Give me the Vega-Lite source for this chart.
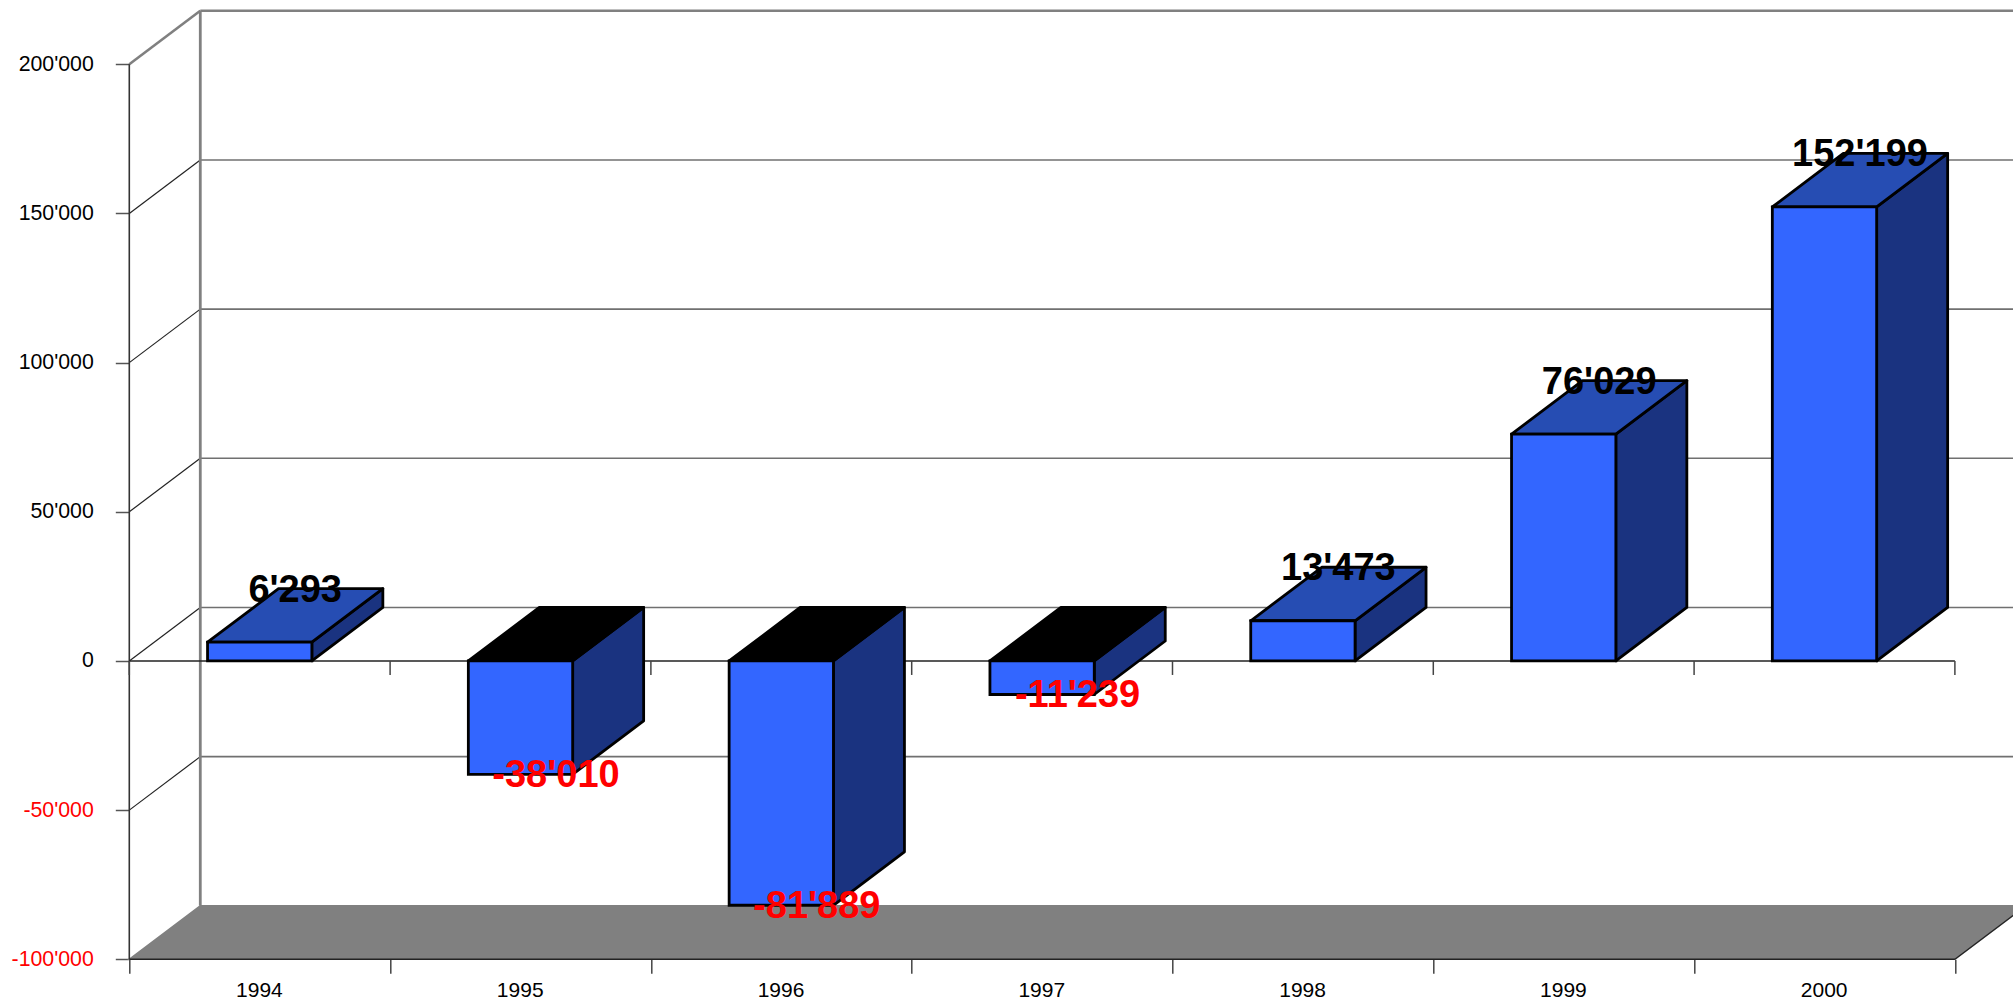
{
"$schema":"https://vega.github.io/schema/vega-lite/v6.json",
"autosize":"none",
"width":1883.7,"height":959.3,
"padding":{"left":129.3,"top":0,"right":0,"bottom":43.7},
"background":"white",
"params":[{"name":"dx","value":0.2722},{"name":"dy","value":17933},{"name":"tickLen","value":4692}],
"config":{"view":{"stroke":null},"font":"Liberation Sans"},
"datasets":{
"bars":[
{"year":1994,"value":6293,"label":"6'293"},
{"year":1995,"value":-38010,"label":"-38'010"},
{"year":1996,"value":-81889,"label":"-81'889"},
{"year":1997,"value":-11239,"label":"-11'239"},
{"year":1998,"value":13473,"label":"13'473"},
{"year":1999,"value":76029,"label":"76'029"},
{"year":2000,"value":152199,"label":"152'199"}],
"grid":[{"level":-50000},{"level":0},{"level":50000},{"level":100000},{"level":150000}],
"slots":[{"slot":0},{"slot":1},{"slot":2},{"slot":3},{"slot":4},{"slot":5},{"slot":6},{"slot":7}]
},
"layer":[
{"data":{"values":[{"base":-100000}]},
 "transform":[
  {"calculate":"[[0,datum.base,datum.base],[dx,datum.base,datum.base+dy],[7,datum.base,datum.base+dy],[7+dx,datum.base+dy,datum.base+dy]]","as":"s"},
  {"flatten":["s"]},
  {"calculate":"datum.s[0]","as":"px"},{"calculate":"datum.s[1]","as":"lo"},{"calculate":"datum.s[2]","as":"hi"}],
 "mark":{"type":"area","fill":"#808080","stroke":"#808080","strokeWidth":1.5,"clip":false},
 "encoding":{
  "x":{"field":"px","type":"quantitative","scale":{"domain":[0,7.2228],"nice":false,"zero":false},
   "axis":{"values":[0,1,2,3,4,5,6,7],"title":null,"domain":false,"grid":false,"tickSize":14,"tickColor":"#444444","tickWidth":1.5,"labelExpr":"datum.value<7?''+(1994+datum.value):''","labelOffset":129.6,"labelPadding":6.5,"labelFontSize":21,"labelFont":"Liberation Sans","labelColor":"#000000","labelFlush":false,"labelOverlap":false,"labelBound":false}},
  "y":{"field":"lo","type":"quantitative","stack":null,"scale":{"domain":[-100000,221553],"nice":false,"zero":false},
   "axis":{"values":[-100000,-50000,0,50000,100000,150000,200000],"title":null,"domain":false,"grid":false,"tickSize":14,"tickColor":"#555555","tickWidth":1.5,"labelExpr":"(datum.value<0?'-':'')+replace(format(abs(datum.value),','),regexp(',','g'),\"'\")","labelColor":{"expr":"datum.value<0?'#ff0000':'#000000'"},"labelFontSize":21.3,"labelFont":"Liberation Sans","labelPadding":22,"labelOverlap":false,"labelBound":false,"labelFlush":false}},
  "y2":{"field":"hi"}}},
{"data":{"name":"grid"},
 "transform":[{"calculate":"dx","as":"gx"},{"calculate":"datum.level+dy","as":"gy"},{"calculate":"7+2*dx","as":"gx2"}],
 "mark":{"type":"rule","stroke":"#707070","strokeWidth":1.6},
 "encoding":{
  "x":{"field":"gx","type":"quantitative","scale":{"domain":[0,7.2228],"nice":false,"zero":false}},
  "x2":{"field":"gx2"},
  "y":{"field":"gy","type":"quantitative","scale":{"domain":[-100000,221553],"nice":false,"zero":false}}}},
{"data":{"name":"grid"},
 "transform":[{"calculate":"0","as":"gx"},{"calculate":"dx","as":"gx2"},{"calculate":"datum.level+dy","as":"gy"}],
 "mark":{"type":"rule","stroke":"#222222","strokeWidth":1.2},
 "encoding":{
  "x":{"field":"gx","type":"quantitative","scale":{"domain":[0,7.2228],"nice":false,"zero":false}},
  "x2":{"field":"gx2"},
  "y":{"field":"level","type":"quantitative","scale":{"domain":[-100000,221553],"nice":false,"zero":false}},
  "y2":{"field":"gy"}}},
{"data":{"values":[{"level":200000}]},
 "transform":[{"calculate":"dx","as":"gx"},{"calculate":"datum.level+dy","as":"gy"},{"calculate":"7+2*dx","as":"gx2"}],
 "mark":{"type":"rule","stroke":"#808080","strokeWidth":2.6},
 "encoding":{
  "x":{"field":"gx","type":"quantitative","scale":{"domain":[0,7.2228],"nice":false,"zero":false}},
  "x2":{"field":"gx2"},
  "y":{"field":"gy","type":"quantitative","scale":{"domain":[-100000,221553],"nice":false,"zero":false}}}},
{"data":{"values":[{"level":200000}]},
 "transform":[{"calculate":"0","as":"gx"},{"calculate":"dx","as":"gx2"},{"calculate":"datum.level+dy","as":"gy"}],
 "mark":{"type":"rule","stroke":"#808080","strokeWidth":2.6},
 "encoding":{
  "x":{"field":"gx","type":"quantitative","scale":{"domain":[0,7.2228],"nice":false,"zero":false}},
  "x2":{"field":"gx2"},
  "y":{"field":"level","type":"quantitative","scale":{"domain":[-100000,221553],"nice":false,"zero":false}},
  "y2":{"field":"gy"}}},
{"data":{"values":[{"low":-100000,"high":200000}]},
 "transform":[{"calculate":"dx","as":"gx"},{"calculate":"datum.low+dy","as":"a"},{"calculate":"datum.high+dy","as":"b"}],
 "mark":{"type":"rule","stroke":"#808080","strokeWidth":2.8},
 "encoding":{
  "x":{"field":"gx","type":"quantitative","scale":{"domain":[0,7.2228],"nice":false,"zero":false}},
  "y":{"field":"a","type":"quantitative","scale":{"domain":[-100000,221553],"nice":false,"zero":false}},
  "y2":{"field":"b"}}},
{"data":{"values":[{"low":-100000,"high":200000}]},
 "transform":[{"calculate":"0","as":"gx"}],
 "mark":{"type":"rule","stroke":"#333333","strokeWidth":1.6},
 "encoding":{
  "x":{"field":"gx","type":"quantitative","scale":{"domain":[0,7.2228],"nice":false,"zero":false}},
  "y":{"field":"low","type":"quantitative","scale":{"domain":[-100000,221553],"nice":false,"zero":false}},
  "y2":{"field":"high"}}},
{"data":{"values":[{"level":0},{"level":-100000}]},
 "transform":[{"calculate":"0","as":"gx"},{"calculate":"7","as":"gx2"}],
 "mark":{"type":"rule","stroke":"#222222","strokeWidth":1.6},
 "encoding":{
  "x":{"field":"gx","type":"quantitative","scale":{"domain":[0,7.2228],"nice":false,"zero":false}},
  "x2":{"field":"gx2"},
  "y":{"field":"level","type":"quantitative","scale":{"domain":[-100000,221553],"nice":false,"zero":false}}}},
{"data":{"values":[{"level":-100000}]},
 "transform":[{"calculate":"7","as":"gx"},{"calculate":"7+dx","as":"gx2"},{"calculate":"datum.level+dy","as":"gy"}],
 "mark":{"type":"rule","stroke":"#222222","strokeWidth":1.2},
 "encoding":{
  "x":{"field":"gx","type":"quantitative","scale":{"domain":[0,7.2228],"nice":false,"zero":false}},
  "x2":{"field":"gx2"},
  "y":{"field":"level","type":"quantitative","scale":{"domain":[-100000,221553],"nice":false,"zero":false}},
  "y2":{"field":"gy"}}},
{"data":{"name":"slots"},
 "transform":[{"calculate":"0","as":"top"},{"calculate":"-tickLen","as":"bottom"}],
 "mark":{"type":"rule","stroke":"#444444","strokeWidth":1.5},
 "encoding":{
  "x":{"field":"slot","type":"quantitative","scale":{"domain":[0,7.2228],"nice":false,"zero":false}},
  "y":{"field":"top","type":"quantitative","scale":{"domain":[-100000,221553],"nice":false,"zero":false}},
  "y2":{"field":"bottom"}}},
{"data":{"name":"bars"},
 "transform":[
  {"calculate":"datum.year-1994+0.3","as":"x0"},{"calculate":"datum.year-1994+0.7","as":"x1"},
  {"calculate":"[0,1]","as":"t"},{"flatten":["t"]},
  {"calculate":"datum.x1+datum.t*dx","as":"px"},
  {"calculate":"min(datum.value,0)+datum.t*dy","as":"lo"},
  {"calculate":"max(datum.value,0)+datum.t*dy","as":"hi"}],
 "mark":{"type":"area","fill":"#1a3380","stroke":"#000000","strokeWidth":2.8,"strokeJoin":"round"},
 "encoding":{
  "detail":{"field":"year"},
  "x":{"field":"px","type":"quantitative","scale":{"domain":[0,7.2228],"nice":false,"zero":false}},
  "y":{"field":"lo","type":"quantitative","stack":null,"scale":{"domain":[-100000,221553],"nice":false,"zero":false}},
  "y2":{"field":"hi"}}},
{"data":{"name":"bars"},
 "transform":[
  {"calculate":"datum.year-1994+0.3","as":"x0"},{"calculate":"datum.year-1994+0.7","as":"x1"},
  {"calculate":"max(datum.value,0)","as":"lv"},
  {"calculate":"[[datum.x0,datum.lv,datum.lv],[datum.x0+dx,datum.lv,datum.lv+dy],[datum.x1,datum.lv,datum.lv+dy],[datum.x1+dx,datum.lv+dy,datum.lv+dy]]","as":"s"},
  {"flatten":["s"]},
  {"calculate":"datum.s[0]","as":"px"},{"calculate":"datum.s[1]","as":"lo"},{"calculate":"datum.s[2]","as":"hi"}],
 "mark":{"type":"area","stroke":"#000000","strokeWidth":2.8,"strokeJoin":"round"},
 "encoding":{
  "detail":{"field":"year"},
  "fill":{"condition":{"test":"datum.value<0","value":"#000000"},"value":"#264db3"},
  "x":{"field":"px","type":"quantitative","scale":{"domain":[0,7.2228],"nice":false,"zero":false}},
  "y":{"field":"lo","type":"quantitative","stack":null,"scale":{"domain":[-100000,221553],"nice":false,"zero":false}},
  "y2":{"field":"hi"}}},
{"data":{"name":"bars"},
 "transform":[
  {"calculate":"datum.year-1994+0.3","as":"x0"},{"calculate":"datum.year-1994+0.7","as":"x1"},{"calculate":"0","as":"base"}],
 "mark":{"type":"rect","fill":"#3366ff","stroke":"#000000","strokeWidth":2.8},
 "encoding":{
  "x":{"field":"x0","type":"quantitative","scale":{"domain":[0,7.2228],"nice":false,"zero":false}},
  "x2":{"field":"x1"},
  "y":{"field":"value","type":"quantitative","scale":{"domain":[-100000,221553],"nice":false,"zero":false}},
  "y2":{"field":"base"}}},
{"data":{"name":"bars"},
 "transform":[
  {"calculate":"datum.year-1994+0.5+dx/2","as":"lx"},
  {"calculate":"datum.value>0?datum.value+dy:datum.value","as":"ly"}],
 "mark":{"type":"text","font":"Liberation Sans","fontWeight":"bold","fontSize":38,"align":"center","baseline":"middle","dy":2},
 "encoding":{
  "text":{"field":"label"},
  "color":{"condition":{"test":"datum.value<0","value":"#ff0000"},"value":"#000000"},
  "x":{"field":"lx","type":"quantitative","scale":{"domain":[0,7.2228],"nice":false,"zero":false}},
  "y":{"field":"ly","type":"quantitative","scale":{"domain":[-100000,221553],"nice":false,"zero":false}}}}
]
}
